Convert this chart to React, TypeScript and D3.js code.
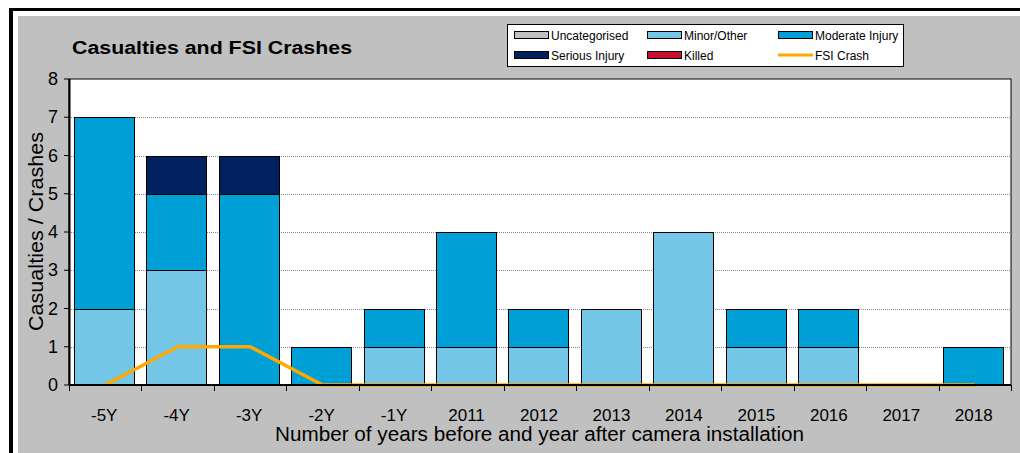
import React from 'react';
import * as d3 from 'd3';

const categories = ['-5Y', '-4Y', '-3Y', '-2Y', '-1Y', '2011', '2012', '2013', '2014', '2015', '2016', '2017', '2018'];
const uncategorised = [0, 0, 0, 0, 0, 0, 0, 0, 0, 0, 0, 0, 0];
const minorOther = [2, 3, 0, 0, 1, 1, 1, 2, 4, 1, 1, 0, 0];
const moderateInjury = [5, 2, 5, 1, 1, 3, 1, 0, 0, 1, 1, 0, 1];
const seriousInjury = [0, 1, 1, 0, 0, 0, 0, 0, 0, 0, 0, 0, 0];
const killed = [0, 0, 0, 0, 0, 0, 0, 0, 0, 0, 0, 0, 0];
const fsiCrash = [0, 1, 1, 0, 0, 0, 0, 0, 0, 0, 0, 0, 0];
const yTicks = [0, 1, 2, 3, 4, 5, 6, 7, 8];

const seriesList = [
  { name: 'Uncategorised', values: uncategorised, color: '#C0C0C0' },
  { name: 'Minor/Other', values: minorOther, color: '#73C6E6' },
  { name: 'Moderate Injury', values: moderateInjury, color: '#00A0D6' },
  { name: 'Serious Injury', values: seriousInjury, color: '#002060' },
  { name: 'Killed', values: killed, color: '#C8102E' },
];

const W = 1020;
const H = 453;
const margin = { top: 79, right: 9, bottom: 68, left: 69 };
const font = 'Arial, "Liberation Sans", sans-serif';

export default function App() {
  const innerW = W - margin.left - margin.right;
  const innerH = H - margin.top - margin.bottom;

  const x = d3.scaleBand().domain(categories).range([0, innerW]).paddingInner(0.17).paddingOuter(0.085);
  const xStep = innerW / categories.length;
  const y = d3.scaleLinear().domain([0, 8]).range([innerH, 0]);

  const rows = categories.map((c, i) => {
    const r: Record<string, any> = { cat: c };
    seriesList.forEach(s => (r[s.name] = s.values[i]));
    return r;
  });
  const stacked = d3.stack().keys(seriesList.map(s => s.name))(rows as any);

  const line = d3
    .line<number>()
    .x((_, i) => (x(categories[i]) || 0) + x.bandwidth() / 2)
    .y(d => y(d));

  const legendItems = [
    { name: 'Uncategorised', color: '#C0C0C0', type: 'rect' },
    { name: 'Minor/Other', color: '#73C6E6', type: 'rect' },
    { name: 'Moderate Injury', color: '#00A0D6', type: 'rect' },
    { name: 'Serious Injury', color: '#002060', type: 'rect' },
    { name: 'Killed', color: '#C8102E', type: 'rect' },
    { name: 'FSI Crash', color: '#FFA800', type: 'line' },
  ];
  const legendCols = [514, 647, 778];
  const legendRows = [35, 55];

  return (
    <svg width={W} height={H} style={{ position: 'absolute', left: 0, top: 0, fontFamily: font }}>
      <rect x={0} y={0} width={W} height={H} fill="#fff" />
      <rect x={18} y={16} width={W - 18} height={H - 16} fill="#C0C0C0" />
      <line x1={9} y1={9.5} x2={W} y2={9.5} stroke="#000" strokeWidth={3} />
      <line x1={11} y1={8} x2={11} y2={H} stroke="#000" strokeWidth={4} />

      <text x={72} y={54} fontSize={18} fontWeight="bold" fill="#000" textLength={280} lengthAdjust="spacingAndGlyphs">
        Casualties and FSI Crashes
      </text>

      {/* legend */}
      <rect x={507.5} y={24.5} width={396} height={42} fill="#fff" stroke="#000" strokeWidth={1} />
      {legendItems.map((d, i) => {
        const lx = legendCols[i % 3];
        const ly = legendRows[Math.floor(i / 3)];
        return (
          <g key={d.name} transform={`translate(${lx},${ly})`}>
            {d.type === 'rect' ? (
              <rect x={0.5} y={-3.5} width={34} height={7} fill={d.color} stroke="#000" strokeWidth={1} />
            ) : (
              <line x1={0} x2={35} y1={0} y2={0} stroke={d.color} strokeWidth={3} />
            )}
            <text x={37} y={4.5} fontSize={12} fill="#000">{d.name}</text>
          </g>
        );
      })}

      <g transform={`translate(${margin.left},${margin.top})`}>
        <rect x={0} y={0} width={innerW} height={innerH} fill="#fff" stroke="#000" strokeWidth={1} />
        {yTicks.filter(t => t > 0 && t < 8).map(t => (
          <line key={t} x1={0} x2={innerW} y1={Math.round(y(t)) + 0.5} y2={Math.round(y(t)) + 0.5}
            stroke="#888" strokeWidth={1} strokeDasharray="1,1" />
        ))}
        {stacked.map((layer, si) => (
          <g key={seriesList[si].name}>
            {layer.map((d, i) =>
              d[1] - d[0] > 0 ? (
                <rect key={i}
                  x={Math.floor(x(categories[i]) || 0) - 0.5}
                  y={Math.round(y(d[1])) + 0.5}
                  width={Math.round(x.bandwidth())}
                  height={Math.round(y(d[0])) - Math.round(y(d[1]))}
                  fill={seriesList[si].color} stroke="#000" strokeWidth={1} />
              ) : null
            )}
          </g>
        ))}
        <path d={line(fsiCrash) || ''} fill="none" stroke="#FFA800" strokeWidth={3.5} strokeLinejoin="miter" />

        {/* axes */}
        <line x1={0.5} x2={0.5} y1={0} y2={innerH} stroke="#000" strokeWidth={2} />
        <line x1={0} x2={innerW} y1={innerH} y2={innerH} stroke="#000" strokeWidth={2} />
        {yTicks.map(t => (
          <g key={t} transform={`translate(0,${y(t)})`}>
            <line x1={-5} x2={0} stroke="#000" strokeWidth={1} />
            <text x={-11} y={6} textAnchor="end" fontSize={18} fill="#000">{t}</text>
          </g>
        ))}
        {d3.range(categories.length + 1).map(i => (
          <line key={i} x1={Math.round(i * xStep) + 0.5} x2={Math.round(i * xStep) + 0.5}
            y1={innerH} y2={innerH + 6} stroke="#000" strokeWidth={1} />
        ))}
        {categories.map(c => (
          <text key={c} x={(x(c) || 0) + x.bandwidth() / 2 - 1} y={innerH + 36} textAnchor="middle" fontSize={17} fill="#000">{c}</text>
        ))}
        <text x={206} y={innerH + 56} fontSize={20} fill="#000" textLength={529} lengthAdjust="spacingAndGlyphs">
          Number of years before and year after camera installation
        </text>
      </g>
      <text transform={`translate(43,${margin.top + innerH / 2}) rotate(-90)`} x={-99} fontSize={20} fill="#000"
        textLength={199} lengthAdjust="spacingAndGlyphs">
        Casualties / Crashes
      </text>
    </svg>
  );
}
